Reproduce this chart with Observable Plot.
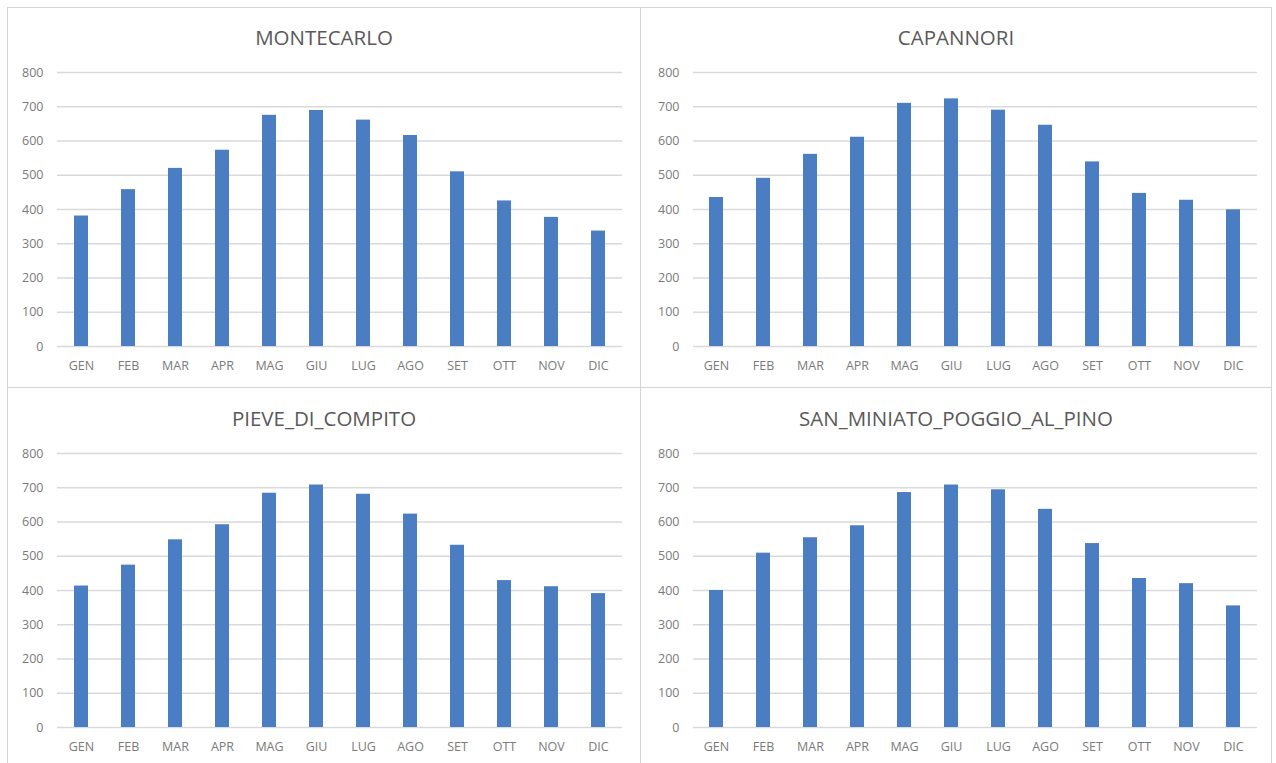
<!DOCTYPE html>
<html>
<head>
<meta charset="utf-8">
<script src="https://cdn.jsdelivr.net/npm/d3@7"></script>
<script src="https://cdn.jsdelivr.net/npm/@observablehq/plot@0.6"></script>
<style>
  html, body { margin: 0; padding: 0; background: #ffffff; }
  #wrap { position: relative; width: 1276px; height: 763px; overflow: hidden; background: #ffffff; }
  .panel { position: absolute; box-sizing: border-box; border: 1px solid #d4d4d4; background: #fff; }
  .title { margin-top: 17px; height: 24px; line-height: 24px; text-align: center;
           font-family: "Open Sans", sans-serif; font-size: 20.5px; color: #595959; }
  .panel svg { display: block; }
</style>
</head>
<body>
<div id="wrap"></div>
<script>
const months = ["GEN","FEB","MAR","APR","MAG","GIU","LUG","AGO","SET","OTT","NOV","DIC"];
const montecarlo = [381, 458, 520, 573, 675, 689, 661, 616, 510, 425, 377, 337];
const capannori  = [435, 491, 561, 611, 710, 723, 690, 646, 539, 447, 427, 399];
const pieveDiCompito = [413, 474, 548, 592, 684, 708, 681, 623, 532, 429, 411, 391];
const sanMiniato = [400, 509, 554, 589, 686, 708, 694, 637, 537, 435, 420, 355];
const stationNames = ["MONTECARLO", "CAPANNORI", "PIEVE_DI_COMPITO", "SAN_MINIATO_POGGIO_AL_PINO"];
const stationValues = [montecarlo, capannori, pieveDiCompito, sanMiniato];
const yTicks = [0, 100, 200, 300, 400, 500, 600, 700, 800];

const layout = [
  {left: 7,   top: 7,   w: 634, h: 381, ml: 49, mr: 18},
  {left: 640, top: 7,   w: 632, h: 381, ml: 52, mr: 14},
  {left: 7,   top: 387, w: 634, h: 390, ml: 49, mr: 18},
  {left: 640, top: 387, w: 632, h: 390, ml: 52, mr: 14}
];

const wrap = document.getElementById("wrap");
stationNames.forEach((name, k) => {
  const L = layout[k];
  const div = document.createElement("div");
  div.className = "panel";
  div.style.left = L.left + "px";
  div.style.top = L.top + "px";
  div.style.width = L.w + "px";
  div.style.height = L.h + "px";
  if (k >= 2) div.style.paddingTop = "1px";
  const t = document.createElement("div");
  t.className = "title";
  t.textContent = name;
  div.appendChild(t);
  const data = months.map((m, i) => ({month: m, value: stationValues[k][i]}));
  const chart = Plot.plot({
    width: L.w - 2,
    height: 337,
    marginTop: 23,
    marginBottom: 40,
    marginLeft: L.ml,
    marginRight: L.mr,
    style: {fontFamily: "'Open Sans', sans-serif", fontSize: "12.5px", color: "#7a7a7a", background: "transparent"},
    x: {domain: months, paddingInner: 0.7, paddingOuter: 0.35, label: null, tickSize: 0, tickPadding: 15},
    y: {domain: [0, 800], ticks: yTicks, label: null, tickSize: 0, tickPadding: 14},
    marks: [
      Plot.gridY(yTicks, {stroke: "#d9d9d9", strokeOpacity: 1, strokeWidth: 1.5}),
      Plot.barY(data, {x: "month", y: "value", fill: "#4a7dc1"})
    ]
  });
  div.appendChild(chart);
  wrap.appendChild(div);
});
</script>
</body>
</html>
